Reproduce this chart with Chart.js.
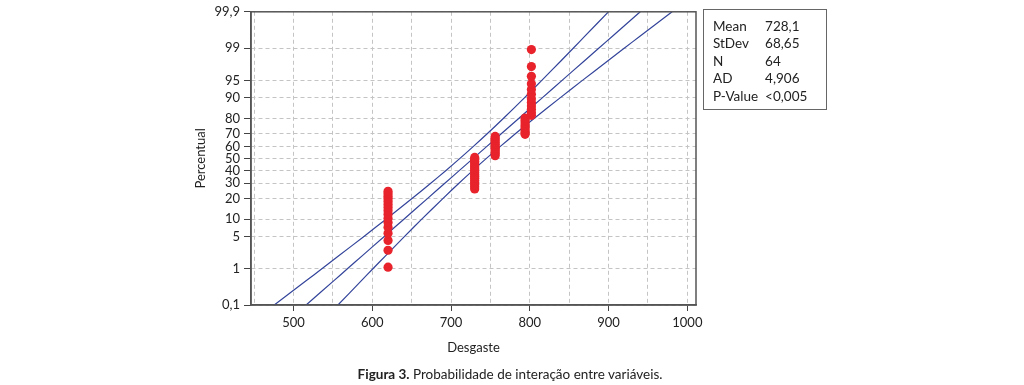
<!DOCTYPE html>
<html>
<head>
<meta charset="utf-8">
<script src="https://cdn.jsdelivr.net/npm/chart.js@4"></script>
<style>
  html, body { margin: 0; padding: 0; background: #fff; }
  #wrap { position: relative; width: 1024px; height: 385px; font-family: Lato, "Open Sans", sans-serif; color: #222; }
  #chart { position: absolute; left: 0; top: 0; }
  #stats { position: absolute; left: 703px; top: 9px; width: 122px; height: 99px; border: 1.5px solid #666; font-size: 13.5px; }
  #stats table { border-collapse: collapse; margin: 8px 0 0 9px; }
  #stats td { padding: 0; height: 17.4px; line-height: 17.4px; }
  #stats td.v { padding-left: 7px; }
  #caption { position: absolute; left: 0; width: 1024px; top: 366px; text-align: center; font-size: 13.5px; }
  #caption span { position: relative; left: -2px; }
</style>
</head>
<body>
<div id="wrap">
  <canvas id="chart" width="1024" height="385"></canvas>
  <div id="stats">
    <table>
      <tr><td>Mean</td><td class="v">728,1</td></tr>
      <tr><td>StDev</td><td class="v">68,65</td></tr>
      <tr><td>N</td><td class="v">64</td></tr>
      <tr><td>AD</td><td class="v">4,906</td></tr>
      <tr><td>P-Value</td><td class="v">&lt;0,005</td></tr>
    </table>
  </div>
  <div id="caption"><span><b>Figura 3.</b> Probabilidade de interação entre variáveis.</span></div>
</div>
<script>
// observed wear values (Desgaste) and their plotted percentiles
const desgaste = [
  620, 620, 620, 620, 620, 620, 620, 620, 620, 620, 620, 620, 620, 620, 620, 620,
  730, 730, 730, 730, 730, 730, 730, 730, 730, 730, 730, 730, 730, 730, 730, 730, 730,
  756, 756, 756, 756, 756, 756, 756, 756, 756, 756, 756,
  794, 794, 794, 794, 794, 794, 794, 794,
  802, 802, 802, 802, 802, 802, 802, 802, 802, 802, 802, 802
];
const percentual = [
  1.09, 2.64, 4.19, 5.75, 7.30, 8.85, 10.40, 11.96, 13.51, 15.06, 16.61, 18.17, 19.72, 21.27, 22.83, 24.38,
  25.93, 27.48, 29.04, 30.59, 32.14, 33.70, 35.25, 36.80, 38.35, 39.91, 41.46, 43.01, 44.57, 46.12, 47.67, 49.22, 50.78,
  52.33, 53.88, 55.43, 56.99, 58.54, 60.09, 61.65, 63.20, 64.75, 66.30, 67.86,
  69.41, 70.96, 72.52, 74.07, 75.62, 77.17, 78.73, 80.28,
  81.83, 83.39, 84.94, 86.49, 88.04, 89.60, 91.15, 92.70, 94.25, 95.81, 97.36, 98.91
];

// fitted line and confidence band, read at these percent levels
const fitPercent = [0.1, 0.5, 1, 2, 5, 10, 20, 30, 40, 50, 60, 70, 80, 90, 95, 98, 99, 99.5, 99.9];
const fitCenter  = [516.0, 551.3, 568.4, 587.1, 615.2, 640.1, 670.3, 692.1, 710.7, 728.1, 745.5, 764.1, 785.9, 816.1, 841.0, 869.1, 887.8, 904.9, 940.2];
const bandLeft   = [475.5, 516.3, 536.0, 557.4, 589.4, 617.4, 650.8, 674.2, 693.6, 711.3, 728.4, 746.2, 766.3, 793.4, 815.2, 839.4, 855.4, 869.9, 899.8];
const bandRight  = [556.4, 586.2, 600.8, 616.8, 641.0, 662.8, 689.9, 710.0, 727.8, 744.9, 762.6, 782.0, 805.4, 838.8, 866.8, 898.8, 920.2, 939.8, 980.7];

const yTicks = [0.1, 1, 5, 10, 20, 30, 40, 50, 60, 70, 80, 90, 95, 99, 99.9];
const xTicks = [450, 500, 550, 600, 650, 700, 750, 800, 850, 900, 950, 1000];

// probability scale: percent -> normal quantile (Acklam)
function probit(pct) {
  const p = pct / 100;
  const a = [-39.69683028665376, 220.9460984245205, -275.9285104469687, 138.3577518672690, -30.66479806614716, 2.506628277459239];
  const b = [-54.47609879822406, 161.5858368580409, -155.6989798598866, 66.80131188771972, -13.28068155288572];
  const c = [-0.007784894002430293, -0.3223964580411365, -2.400758277161838, -2.549732539343734, 4.374664141464968, 2.938163982698783];
  const d = [0.007784695709041462, 0.3224671290700398, 2.445134137142996, 3.754408661907416];
  const pl = 0.02425;
  let q, r;
  if (p < pl) {
    q = Math.sqrt(-2 * Math.log(p));
    return (((((c[0]*q+c[1])*q+c[2])*q+c[3])*q+c[4])*q+c[5]) / ((((d[0]*q+d[1])*q+d[2])*q+d[3])*q+1);
  }
  if (p > 1 - pl) {
    q = Math.sqrt(-2 * Math.log(1 - p));
    return -(((((c[0]*q+c[1])*q+c[2])*q+c[3])*q+c[4])*q+c[5]) / ((((d[0]*q+d[1])*q+d[2])*q+d[3])*q+1);
  }
  q = p - 0.5;
  r = q * q;
  return (((((a[0]*r+a[1])*r+a[2])*r+a[3])*r+a[4])*r+a[5])*q / (((((b[0]*r+b[1])*r+b[2])*r+b[3])*r+b[4])*r+1);
}

function toPoints(xs, ps) {
  return xs.map((x, i) => ({ x: x, y: probit(ps[i]) }));
}

function pctLabel(z) {
  let best = yTicks[0];
  yTicks.forEach(t => { if (Math.abs(probit(t) - z) < Math.abs(probit(best) - z)) best = t; });
  return String(best).replace('.', ',');
}

const lineColor = '#33449a';
const lineSet = (data) => ({
  type: 'line', data: data, borderColor: lineColor, borderWidth: 1.2,
  pointRadius: 0, fill: false, tension: 0.3, order: 2
});

const frame = {
  id: 'frame',
  afterDatasetsDraw(chart) {
    const { ctx, chartArea: a } = chart;
    ctx.save();
    ctx.strokeStyle = '#555';
    ctx.lineWidth = 1.5;
    ctx.strokeRect(a.left, a.top, a.right - a.left, a.bottom - a.top);
    ctx.restore();
  }
};

const fontSpec = { family: 'Lato, "Open Sans", sans-serif', size: 13 };

new Chart(document.getElementById('chart'), {
  type: 'scatter',
  data: {
    datasets: [
      lineSet(toPoints(bandLeft, fitPercent)),
      lineSet(toPoints(fitCenter, fitPercent)),
      lineSet(toPoints(bandRight, fitPercent)),
      {
        data: toPoints(desgaste, percentual),
        backgroundColor: '#e8232b', borderWidth: 0, pointRadius: 4.6, order: 1
      }
    ]
  },
  options: {
    responsive: false,
    animation: false,
    layout: { padding: { left: 193, right: 328, top: 10, bottom: 29 } },
    plugins: { legend: { display: false }, tooltip: { enabled: false } },
    scales: {
      x: {
        type: 'linear', min: 446, max: 1011,
        afterBuildTicks: (axis) => { axis.ticks = xTicks.map(v => ({ value: v })); },
        afterFit: (axis) => { axis.height = 51; },
        ticks: {
          color: '#222', font: fontSpec, padding: 4, maxRotation: 0, autoSkip: false,
          callback: (v) => (v % 100 === 0 ? String(v) : '')
        },
        grid: {
          color: '#c4c4c4', lineWidth: 1, tickLength: 6,
          tickColor: (c) => (c.tick && c.tick.value % 100 === 0 ? '#444' : 'rgba(0,0,0,0)')
        },
        border: { color: '#555', width: 1.5, dash: [4, 3] },
        title: { display: true, text: 'Desgaste', color: '#222', font: fontSpec, padding: { top: 3, bottom: 0 } }
      },
      y: {
        type: 'linear', min: probit(0.1), max: probit(99.9),
        afterBuildTicks: (axis) => { axis.ticks = yTicks.map(p => ({ value: probit(p) })); },
        afterFit: (axis) => { axis.width = 58; },
        ticks: { color: '#222', font: fontSpec, padding: 4, autoSkip: false, callback: (v) => pctLabel(v) },
        grid: { color: '#c4c4c4', lineWidth: 1, tickLength: 7, tickColor: '#444' },
        border: { color: '#555', width: 1.5, dash: [4, 3] },
        title: { display: true, text: 'Percentual', color: '#222', font: fontSpec, padding: { top: 0, bottom: 0 } }
      }
    }
  },
  plugins: [frame]
});
</script>
</body>
</html>
